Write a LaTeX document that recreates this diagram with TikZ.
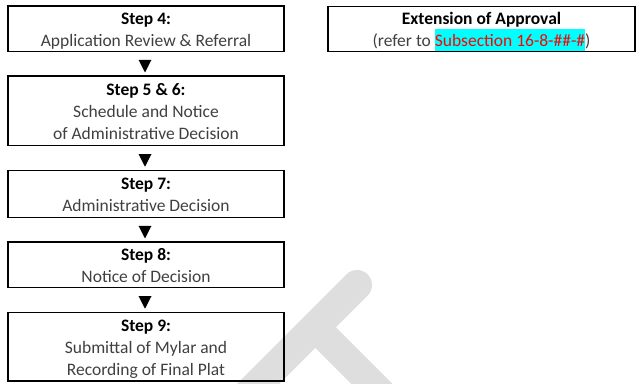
\documentclass[tikz,border=0pt]{standalone}
\usepackage{fontspec}
\setmainfont{Carlito}
\usetikzlibrary{shapes.geometric,calc}
\definecolor{bodygray}{HTML}{404040}
\definecolor{hlcyan}{HTML}{00FFFF}
\definecolor{refred}{HTML}{FF0000}
\definecolor{markgray}{HTML}{DEDEDE}
\newcommand{\stephead}[1]{{\bfseries\color{black}#1}}
\newcommand{\hlref}[1]{{\setlength{\fboxsep}{0pt}\colorbox{hlcyan}{\rule[-4.5pt]{0pt}{22pt}\color{refred}#1}}}
\begin{document}
\begin{tikzpicture}[x=1pt,y=-1pt,
  stepbox/.style={draw=black, line width=1.2pt, minimum width=276pt, inner sep=0pt,
    align=center, font=\fontsize{17.5}{22}\selectfont, text=bodygray, text depth=5pt},
  twolines/.style={text height=40pt},
  threelines/.style={text height=62pt},
  downmark/.style={isosceles triangle, isosceles triangle stretches=true,
    shape border rotate=-90, minimum width=13pt, minimum height=12.7pt,
    inner sep=0pt, fill=black, draw=none}
]
\useasboundingbox (0,0) rectangle (637,383);

% faint watermark stroke behind the flow
\begin{scope}
  \clip (0,0) rectangle (637,383);
  \draw[markgray, line width=30pt, line cap=round] (240,402) -- (357,285);
  \draw[markgray, line width=29pt] (315,327) -- (400,412);
\end{scope}

% process steps
\node[stepbox, twolines, minimum height=45.5pt] (s4) at (146,28.75)
  {\stephead{Step 4:}\\Application Review \& Referral};
\node[stepbox, threelines, minimum height=69.5pt] (s56) at (146,110.75)
  {\stephead{Step 5 \& 6:}\\Schedule and Notice\\of Administrative Decision};
\node[stepbox, twolines, minimum height=47pt] (s7) at (146,194)
  {\stephead{Step 7:}\\Administrative Decision};
\node[stepbox, twolines, minimum height=45.3pt] (s8) at (146,264.65)
  {\stephead{Step 8:}\\Notice of Decision};
\node[stepbox, threelines, minimum height=68.3pt] (s9) at (146,346.85)
  {\stephead{Step 9:}\\Submittal of Mylar and\\Recording of Final Plat};

% extension box
\node[stepbox, twolines, minimum width=307pt, minimum height=44.2pt] (ext) at (481.5,28.6)
  {\stephead{Extension of Approval}\\(refer to \hlref{Subsection 16-8-\#\#-\#})};

% down markers between steps
\node[downmark] (m1) at ($(s4.south)!0.5!(s56.north) + (-1,0)$) {};
\node[downmark] (m2) at ($(s56.south)!0.5!(s7.north) + (-1,0)$) {};
\node[downmark] (m3) at ($(s7.south)!0.5!(s8.north) + (-1,0)$) {};
\node[downmark] (m4) at ($(s8.south)!0.5!(s9.north) + (-1,0)$) {};
\end{tikzpicture}
\end{document}
